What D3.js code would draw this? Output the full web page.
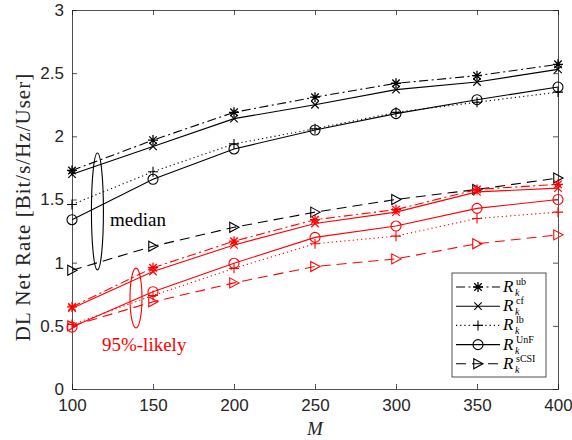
<!DOCTYPE html>
<html>
<head>
<meta charset="utf-8">
<script src="https://cdn.jsdelivr.net/npm/d3@7/dist/d3.min.js"></script>
<style>
  body { margin: 0; background: #fff; }
  .tick-label { font-family: "Liberation Sans", Arial, sans-serif; font-size: 17px; fill: #262626; }
  .serif { font-family: "Liberation Serif", "DejaVu Serif", serif; }
</style>
</head>
<body>
<div id="chart-area"></div>
<script>
const M = [100, 150, 200, 250, 300, 350, 400];
const yTicks = [0, 0.5, 1, 1.5, 2, 2.5, 3];

// median (black)
const medUb = [1.73, 1.97, 2.19, 2.31, 2.42, 2.48, 2.57];
const medCf = [1.70, 1.92, 2.14, 2.25, 2.37, 2.43, 2.53];
const medLb = [1.46, 1.72, 1.94, 2.06, 2.19, 2.27, 2.35];
const medUnf = [1.34, 1.66, 1.90, 2.05, 2.18, 2.29, 2.39];
const medScsi = [0.94, 1.13, 1.28, 1.40, 1.50, 1.58, 1.67];

// 95%-likely (red)
const likUb = [0.65, 0.96, 1.17, 1.34, 1.42, 1.58, 1.62];
const likCf = [0.64, 0.93, 1.14, 1.31, 1.40, 1.56, 1.59];
const likLb = [0.51, 0.74, 0.955, 1.15, 1.21, 1.35, 1.40];
const likUnf = [0.49, 0.77, 0.995, 1.20, 1.29, 1.43, 1.50];
const likScsi = [0.50, 0.69, 0.84, 0.97, 1.03, 1.15, 1.22];

const legendSup = ["ub", "cf", "lb", "UnF", "sCSI"];

const styles = [
  { marker: "*", dash: "9,3.5,2,3.5" },
  { marker: "x", dash: null },
  { marker: "+", dash: "1.2,3" },
  { marker: "o", dash: null },
  { marker: ">", dash: "10,6" }
];

const groups = [
  { color: "#000000", series: [medUb, medCf, medLb, medUnf, medScsi] },
  { color: "#ff0000", series: [likUb, likCf, likLb, likUnf, likScsi] }
];

const chartSize = { width: 572, height: 440 };
const margin = { left: 72, right: 14, top: 10, bottom: 51 };
const width = chartSize.width - margin.left - margin.right;
const height = chartSize.height - margin.top - margin.bottom;

const x = d3.scaleLinear().domain([100, 400]).range([0, width]);
const y = d3.scaleLinear().domain([0, 3]).range([height, 0]);

const svg = d3
  .select("#chart-area")
  .append("svg")
  .attr("width", chartSize.width)
  .attr("height", chartSize.height);

const g = svg.append("g").attr("transform", `translate(${margin.left},${margin.top})`);

const drawMarker = (sel, type, cx, cy, color) => {
  const s = 5;
  const d = s * 0.75;
  const plus = `M${cx - s},${cy}L${cx + s},${cy}M${cx},${cy - s}L${cx},${cy + s}`;
  const cross = `M${cx - d},${cy - d}L${cx + d},${cy + d}M${cx - d},${cy + d}L${cx + d},${cy - d}`;
  if (type === "o") {
    sel.append("circle")
      .attr("cx", cx).attr("cy", cy).attr("r", s)
      .attr("fill", "none").attr("stroke", color).attr("stroke-width", 1.1);
    return;
  }
  let p;
  if (type === "+") p = plus;
  else if (type === "x") p = cross;
  else if (type === "*") p = plus + cross;
  else p = `M${cx - s * 0.85},${cy - s}L${cx + s},${cy}L${cx - s * 0.85},${cy + s}Z`;
  sel.append("path")
    .attr("d", p)
    .attr("fill", "none")
    .attr("stroke", color)
    .attr("stroke-width", type === "*" ? 1.3 : 1.1);
};

// axes (MATLAB box, ticks inside)
const axisColor = "#262626";
const xAxis = d3.axisBottom(x).tickValues(M).tickSize(-5).tickPadding(10).tickFormat(d3.format("d"));
const yAxis = d3.axisLeft(y).tickValues(yTicks).tickSize(-5).tickPadding(8).tickFormat(d => d);

const xg = g.append("g").attr("transform", `translate(0,${height})`).call(xAxis);
const yg = g.append("g").call(yAxis);
g.append("g").call(d3.axisTop(x).tickValues(M).tickSize(-5).tickFormat(""));
g.append("g").attr("transform", `translate(${width},0)`)
  .call(d3.axisRight(y).tickValues(yTicks).tickSize(-5).tickFormat(""));

g.selectAll(".domain, .tick line").attr("stroke", axisColor).attr("stroke-width", 0.8);
[xg, yg].forEach(a => a.selectAll(".tick text").attr("class", "tick-label").attr("fill", axisColor));

// series
const line = d3.line().x((d, i) => x(M[i])).y(d => y(d));

groups.forEach(grp => {
  grp.series.forEach((vals, si) => {
    const st = styles[si];
    g.append("path")
      .datum(vals)
      .attr("d", line)
      .attr("fill", "none")
      .attr("stroke", grp.color)
      .attr("stroke-width", 1.1)
      .attr("stroke-dasharray", st.dash);
    const mg = g.append("g");
    vals.forEach((v, i) => drawMarker(mg, st.marker, x(M[i]), y(v), grp.color));
  });
});

// annotations
g.append("ellipse")
  .attr("cx", x(115.7)).attr("cy", y(1.405))
  .attr("rx", 6).attr("ry", y(0) - y(0.463))
  .attr("fill", "none").attr("stroke", "#000").attr("stroke-width", 1.1);
g.append("text").attr("class", "serif")
  .attr("x", x(123.5)).attr("y", y(1.29))
  .attr("font-size", 19).text("median");

g.append("ellipse")
  .attr("cx", x(139.5)).attr("cy", y(0.72))
  .attr("rx", 6).attr("ry", y(0) - y(0.237))
  .attr("fill", "none").attr("stroke", "#ff0000").attr("stroke-width", 1.1);
g.append("text").attr("class", "serif")
  .attr("x", x(118.5)).attr("y", y(0.3))
  .attr("font-size", 19).attr("fill", "#ff0000").text("95%-likely");

// axis labels
svg.append("text").attr("class", "serif")
  .attr("transform", `translate(30,207) rotate(-90)`)
  .attr("text-anchor", "middle").attr("font-size", 21).attr("letter-spacing", 1)
  .attr("fill", axisColor)
  .text("DL Net Rate [Bit/s/Hz/User]");
svg.append("text").attr("class", "serif")
  .attr("x", margin.left + width / 2).attr("y", 435)
  .attr("text-anchor", "middle").attr("font-size", 19).attr("font-style", "italic")
  .attr("fill", axisColor).text("M");

// legend
const lg = svg.append("g");
lg.append("rect")
  .attr("x", 452).attr("y", 273).attr("width", 94).attr("height", 104)
  .attr("fill", "#fff").attr("stroke", axisColor).attr("stroke-width", 0.8);
legendSup.forEach((sup, i) => {
  const ly = 287 + i * 19.2;
  const st = styles[i];
  lg.append("line")
    .attr("x1", 456).attr("x2", 500).attr("y1", ly).attr("y2", ly)
    .attr("stroke", "#000").attr("stroke-width", 1.1)
    .attr("stroke-dasharray", st.dash);
  drawMarker(lg, st.marker, 478, ly, "#000");
  const t = lg.append("text").attr("class", "serif")
    .attr("x", 503).attr("y", ly + 5)
    .attr("font-size", 17);
  t.append("tspan").attr("font-style", "italic").text("R");
  t.append("tspan").attr("x", 516).attr("dy", -7).attr("font-size", 10).text(sup);
  t.append("tspan").attr("x", 515).attr("dy", 11).attr("font-size", 10)
    .attr("font-style", "italic").text("k");
});
</script>
</body>
</html>
